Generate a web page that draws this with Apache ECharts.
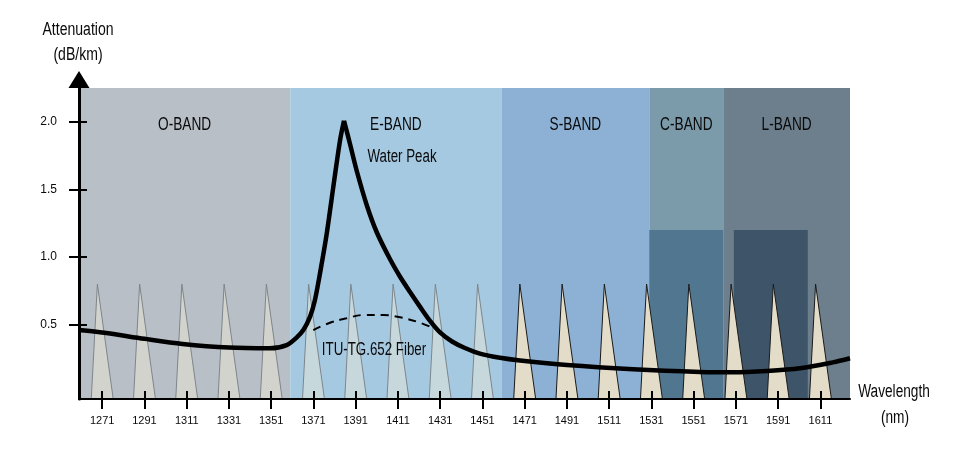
<!DOCTYPE html>
<html><head><meta charset="utf-8">
<script src="https://cdn.jsdelivr.net/npm/echarts@6/dist/echarts.min.js"></script>
<style>html,body{margin:0;padding:0;background:#fff}#c{width:976px;height:464px}</style>
</head><body><div id="c"></div>
<script>
const FONT = "'Liberation Sans Narrow','Liberation Sans',Arial,sans-serif";

// ---- data ----
const bandNames = ['O-BAND', 'E-BAND', 'S-BAND', 'C-BAND', 'L-BAND'];
const bandStart = [1260, 1360, 1460, 1530, 1565];
const bandEnd   = [1360, 1460, 1530, 1565, 1625];

const ampStart = [1530, 1570];
const ampEnd   = [1565, 1605];
const ampTop   = [1.2, 1.2];

const channels    = [1271, 1291, 1311, 1331, 1351, 1371, 1391, 1411, 1431, 1451, 1471, 1491, 1511, 1531, 1551, 1571, 1591, 1611];
const channelPeak = [0.8, 0.8, 0.8, 0.8, 0.8, 0.8, 0.8, 0.8, 0.8, 0.8, 0.8, 0.8, 0.8, 0.8, 0.8, 0.8, 0.8, 0.8];

const xTicks = [1271, 1291, 1311, 1331, 1351, 1371, 1391, 1411, 1431, 1451, 1471, 1491, 1511, 1531, 1551, 1571, 1591, 1611];
const yTicks = [0.5, 1.0, 1.5, 2.0];

// attenuation of standard fibre (with water peak)
const attnWl  = [1260, 1272, 1291, 1309, 1331, 1350.4, 1358.3, 1363.1, 1366.2, 1369.4, 1371.7, 1374.1, 1377.3, 1380.4, 1383.6, 1385.45,
                 1388.3, 1391.5, 1396.2, 1400.9, 1407.2, 1412, 1416.7, 1421.4, 1426.2, 1430.9, 1436.6, 1442.7, 1449.8, 1459.3, 1468.8,
                 1491, 1522.3, 1554, 1569.6, 1585.7, 1601.3, 1616.9, 1625];
const attnVal = [0.46, 0.44, 0.395, 0.357, 0.33, 0.325, 0.349, 0.406, 0.46, 0.559, 0.682, 0.88, 1.175, 1.52, 1.865, 2.008,
                 1.836, 1.636, 1.385, 1.185, 0.985, 0.854, 0.741, 0.633, 0.527, 0.442, 0.375, 0.327, 0.286, 0.255, 0.235,
                 0.201, 0.17, 0.15, 0.147, 0.157, 0.177, 0.221, 0.251];

// ITU-T G.652 low-water-peak curve (dashed)
const g652Wl  = [1370.9, 1378.8, 1386.7, 1394.6, 1404.1, 1412, 1419.9, 1426.2];
const g652Val = [0.46, 0.514, 0.547, 0.571, 0.571, 0.554, 0.522, 0.485];

// ---- styles ----
const X_MIN = 1260, X_MAX = 1625, Y_MIN = -0.05, Y_MAX = 2.25;
const bandColors = ['#b9bfc6', '#a5c9e1', '#8cb1d5', '#7b9bab', '#6d7f8c'];
const ampColors = ['#50778f', '#3e5468'];

const peakIdx = attnVal.indexOf(Math.max.apply(null, attnVal));
const rise = attnWl.slice(0, peakIdx + 1).map((w, i) => [w, attnVal[i]]);
const fall = attnWl.slice(peakIdx).map((w, i) => [w, attnVal[peakIdx + i]]);

// text squeezed horizontally to imitate the condensed typeface
function label(text, x, y, size, sx) {
  return { type: 'text', x: x, y: y, scaleX: sx, z: 100, silent: true,
    style: { text: text, font: size + 'px ' + FONT, fill: '#0a0a0a', align: 'center', verticalAlign: 'middle' } };
}

const chart = echarts.init(document.getElementById('c'));
const tickStyle = { color: '#000', width: 2 };
chart.setOption({
  animation: false,
  textStyle: { fontFamily: FONT },
  grid: { left: 79, right: 126, top: 88, bottom: 65 },
  xAxis: [{
    type: 'value', min: X_MIN, max: X_MAX, position: 'bottom', z: 10,
    axisLine: { show: true, onZero: false, lineStyle: { color: '#000', width: 2 } },
    axisTick: { show: true, length: 10, customValues: xTicks, lineStyle: tickStyle },
    axisLabel: { customValues: xTicks, margin: 16, fontSize: 11, color: '#0a0a0a', fontFamily: FONT, formatter: v => String(v) },
    splitLine: { show: false }
  }, {
    type: 'value', min: X_MIN, max: X_MAX, position: 'bottom', z: 10,
    axisLine: { show: false, onZero: false },
    axisTick: { show: true, inside: true, length: 8, customValues: xTicks, lineStyle: tickStyle },
    axisLabel: { show: false }, splitLine: { show: false }
  }],
  yAxis: [{
    type: 'value', min: Y_MIN, max: Y_MAX, position: 'left', z: 10,
    axisLine: { show: true, onZero: false, symbol: ['none', 'triangle'], symbolSize: [21, 17], symbolOffset: [0, 8.5], lineStyle: { color: '#000', width: 3 } },
    axisTick: { show: true, length: 10, customValues: yTicks, lineStyle: tickStyle },
    axisLabel: { customValues: yTicks, margin: 22, fontSize: 12, color: '#0a0a0a', fontFamily: FONT, formatter: v => v.toFixed(1) },
    splitLine: { show: false }
  }, {
    type: 'value', min: Y_MIN, max: Y_MAX, position: 'left', z: 10,
    axisLine: { show: false, onZero: false },
    axisTick: { show: true, inside: true, length: 8, customValues: yTicks, lineStyle: tickStyle },
    axisLabel: { show: false }, splitLine: { show: false }
  }],
  graphic: [
    label('Attenuation', 78, 30, 18, 0.78),
    label('(dB/km)', 78, 55.5, 18, 0.78),
    label('Wavelength', 894, 392, 18, 0.76),
    label('(nm)', 895, 418, 18, 0.76),
    label('Water Peak', 402, 157, 18, 0.74),
    label('ITU-TG.652 Fiber', 374, 350, 18, 0.74)
  ],
  series: [{
    type: 'custom', z: 1, silent: true,
    data: bandNames.map((n, i) => [bandStart[i], bandEnd[i], i]),
    renderItem: function (params, api) {
      const i = api.value(2);
      const tl = api.coord([api.value(0), Y_MAX]);
      const br = api.coord([api.value(1), Y_MIN]);
      return {
        type: 'group',
        children: [{
          type: 'rect',
          shape: { x: tl[0], y: tl[1], width: br[0] - tl[0], height: br[1] - tl[1] },
          style: { fill: bandColors[i] }
        }, {
          type: 'text', x: (tl[0] + br[0]) / 2, y: tl[1] + 36.5, scaleX: 0.72,
          style: { text: bandNames[i], font: '19px ' + FONT, fill: '#0a0a0a', align: 'center', verticalAlign: 'middle' }
        }]
      };
    }
  }, {
    type: 'custom', z: 2, silent: true,
    data: ampStart.map((s, i) => [s, ampEnd[i], ampTop[i], i]),
    renderItem: function (params, api) {
      const tl = api.coord([api.value(0), api.value(2)]);
      const br = api.coord([api.value(1), Y_MIN]);
      return {
        type: 'rect',
        shape: { x: tl[0], y: tl[1], width: br[0] - tl[0], height: br[1] - tl[1] },
        style: { fill: ampColors[api.value(3)] }
      };
    }
  }, {
    type: 'custom', z: 3, silent: true,
    data: channels.map((c, i) => [c, channelPeak[i]]),
    renderItem: function (params, api) {
      const wl = api.value(0), pk = api.value(1);
      const bl = api.coord([wl - 5.2, Y_MIN]);
      const br = api.coord([wl + 5.2, Y_MIN]);
      const ap = api.coord([wl - 2.3, pk]);
      const amplified = wl > bandEnd[1];
      return {
        type: 'polygon',
        shape: { points: [bl, ap, br] },
        style: amplified
          ? { fill: '#e2dcc8', stroke: '#1a1a1a', lineWidth: 1 }
          : { fill: 'rgba(246,239,214,0.42)', stroke: '#7d868c', lineWidth: 1 }
      };
    }
  }, {
    type: 'line', z: 4, silent: true, symbol: 'none', smooth: 0.4,
    data: g652Wl.map((w, i) => [w, g652Val[i]]),
    lineStyle: { color: '#000', width: 2, type: [8, 6] }
  }, {
    type: 'line', z: 5, silent: true, symbol: 'none', smooth: 0.3,
    data: rise, lineStyle: { color: '#000', width: 4.5 }
  }, {
    type: 'line', z: 5, silent: true, symbol: 'none', smooth: 0.3,
    data: fall, lineStyle: { color: '#000', width: 4.5 }
  }]
});
</script>
</body></html>
